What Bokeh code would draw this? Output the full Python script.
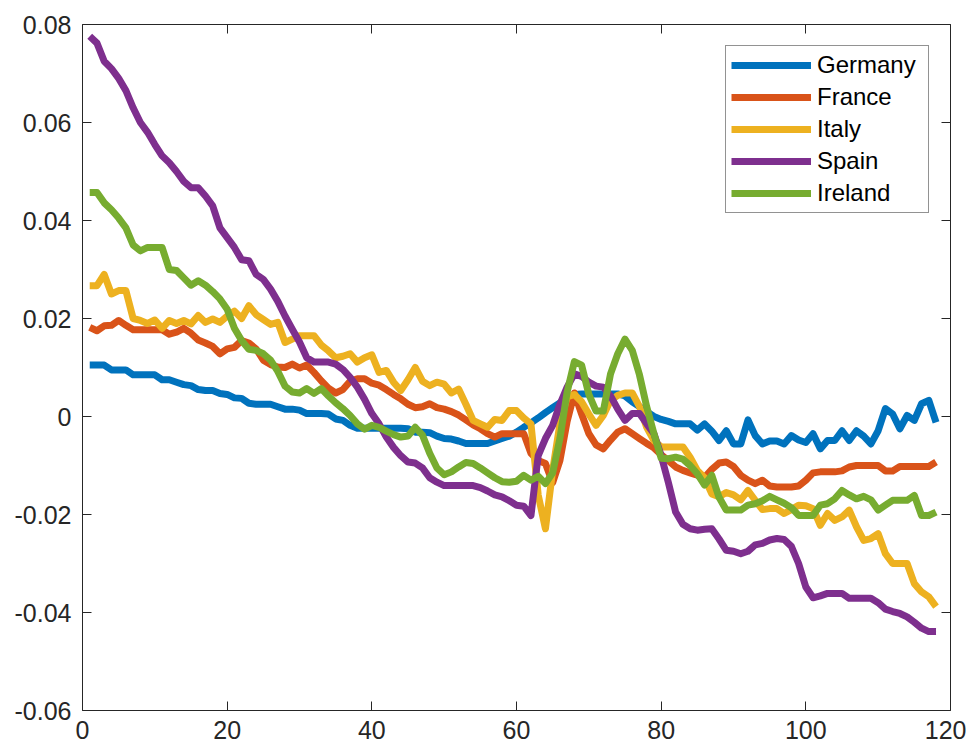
from bokeh.plotting import figure
from bokeh.models import (Range1d, FixedTicker, LinearAxis, Legend, LegendItem,
                          CustomJSTickFormatter, ColumnDataSource)
from bokeh.embed import file_html
from bokeh.resources import INLINE

periods = list(range(1, 119))

names = ["Germany", "France", "Italy", "Spain", "Ireland"]
colors = ["#0072BD", "#D95319", "#EDB120", "#7E2F8E", "#77AC30"]

germany = [
    0.0105, 0.0105, 0.0105, 0.0095, 0.0095, 0.0095, 0.0085, 0.0085, 0.0085, 0.0085,
    0.0075, 0.0075, 0.0070, 0.0065, 0.0063, 0.0055, 0.0053, 0.0053, 0.0047, 0.0045,
    0.0038, 0.0037, 0.0027, 0.0025, 0.0025, 0.0025, 0.0020, 0.0015, 0.0015, 0.0013,
    0.0006, 0.0006, 0.0006, 0.0005, -0.0005, -0.0008, -0.0018, -0.0024, -0.0024, -0.0024,
    -0.0024, -0.0024, -0.0024, -0.0024, -0.0025, -0.0032, -0.0032, -0.0033, -0.0040, -0.0045,
    -0.0046, -0.0050, -0.0055, -0.0055, -0.0055, -0.0055, -0.0050, -0.0045, -0.0040, -0.0032,
    -0.0022, -0.0013, -0.0003, 0.0008, 0.0018, 0.0028, 0.0038, 0.0045, 0.0046, 0.0046,
    0.0046, 0.0046, 0.0046, 0.0046, 0.0042, 0.0030, 0.0020, 0.0010, 0.0000, -0.0006,
    -0.0010, -0.0015, -0.0015, -0.0015, -0.0028, -0.0015, -0.0030, -0.0049, -0.0029, -0.0056,
    -0.0056, -0.0007, -0.0039, -0.0056, -0.0050, -0.0050, -0.0056, -0.0039, -0.0048, -0.0053,
    -0.0035, -0.0066, -0.0049, -0.0049, -0.0029, -0.0049, -0.0029, -0.0040, -0.0056, -0.0029,
    0.0016, 0.0005, -0.0025, 0.0002, -0.0008, 0.0026, 0.0033, -0.0012]

france = [
    0.0182, 0.0175, 0.0185, 0.0186, 0.0196, 0.0186, 0.0177, 0.0177, 0.0177, 0.0177,
    0.0177, 0.0168, 0.0172, 0.0180, 0.0170, 0.0156, 0.0150, 0.0143, 0.0128, 0.0138,
    0.0141, 0.0155, 0.0150, 0.0138, 0.0115, 0.0106, 0.0101, 0.0100, 0.0107, 0.0099,
    0.0105, 0.0090, 0.0073, 0.0058, 0.0048, 0.0055, 0.0072, 0.0077, 0.0077, 0.0068,
    0.0064, 0.0055, 0.0045, 0.0036, 0.0025, 0.0018, 0.0020, 0.0026, 0.0018, 0.0015,
    0.0010, 0.0003, -0.0007, -0.0017, -0.0025, -0.0035, -0.0042, -0.0035, -0.0035, -0.0035,
    -0.0035, -0.0075, -0.0090, -0.0096, -0.0135, -0.0090, -0.0010, 0.0048, 0.0005, -0.0035,
    -0.0058, -0.0066, -0.0048, -0.0032, -0.0025, -0.0035, -0.0045, -0.0055, -0.0064, -0.0078,
    -0.0090, -0.0103, -0.0110, -0.0115, -0.0120, -0.0124, -0.0108, -0.0095, -0.0093, -0.0102,
    -0.0120, -0.0130, -0.0137, -0.0130, -0.0142, -0.0144, -0.0144, -0.0144, -0.0142, -0.0130,
    -0.0115, -0.0113, -0.0113, -0.0113, -0.0111, -0.0103, -0.0100, -0.0100, -0.0100, -0.0100,
    -0.0111, -0.0111, -0.0102, -0.0102, -0.0102, -0.0102, -0.0102, -0.0093]

italy = [
    0.0267, 0.0267, 0.0290, 0.0250, 0.0257, 0.0257, 0.0200, 0.0196, 0.0190, 0.0197,
    0.0180, 0.0196, 0.0190, 0.0196, 0.0189, 0.0206, 0.0192, 0.0199, 0.0192, 0.0205,
    0.0215, 0.0200, 0.0226, 0.0208, 0.0198, 0.0188, 0.0192, 0.0151, 0.0158, 0.0165,
    0.0165, 0.0165, 0.0146, 0.0134, 0.0120, 0.0123, 0.0128, 0.0111, 0.0120, 0.0126,
    0.0090, 0.0094, 0.0070, 0.0053, 0.0075, 0.0100, 0.0072, 0.0063, 0.0070, 0.0066,
    0.0048, 0.0056, 0.0025, -0.0008, -0.0015, -0.0022, -0.0006, -0.0008, 0.0012, 0.0012,
    -0.0003, -0.0015, -0.0160, -0.0229, -0.0110, -0.0015, 0.0040, 0.0045, 0.0030, 0.0005,
    -0.0018, 0.0002, 0.0033, 0.0043, 0.0048, 0.0048, 0.0020, -0.0022, -0.0049, -0.0062,
    -0.0062, -0.0062, -0.0062, -0.0083, -0.0110, -0.0125, -0.0158, -0.0164, -0.0155, -0.0160,
    -0.0170, -0.0151, -0.0171, -0.0190, -0.0188, -0.0188, -0.0198, -0.0190, -0.0181, -0.0182,
    -0.0188, -0.0222, -0.0198, -0.0212, -0.0205, -0.0191, -0.0225, -0.0253, -0.0249, -0.0239,
    -0.0280, -0.0300, -0.0300, -0.0300, -0.0341, -0.0358, -0.0368, -0.0388]

spain = [
    0.0776, 0.0762, 0.0725, 0.0710, 0.0690, 0.0665, 0.0630, 0.0600, 0.0580, 0.0555,
    0.0532, 0.0518, 0.0500, 0.0480, 0.0467, 0.0467, 0.0450, 0.0430, 0.0385, 0.0365,
    0.0345, 0.0320, 0.0318, 0.0290, 0.0280, 0.0260, 0.0235, 0.0205, 0.0178, 0.0152,
    0.0120, 0.0111, 0.0111, 0.0111, 0.0107, 0.0096, 0.0080, 0.0060, 0.0035, 0.0006,
    -0.0015, -0.0042, -0.0063, -0.0080, -0.0093, -0.0095, -0.0105, -0.0125, -0.0134, -0.0141,
    -0.0141, -0.0141, -0.0141, -0.0141, -0.0145, -0.0152, -0.0160, -0.0164, -0.0172, -0.0181,
    -0.0183, -0.0202, -0.0080, -0.0045, -0.0018, 0.0025, 0.0060, 0.0087, 0.0082, 0.0070,
    0.0062, 0.0060, 0.0042, 0.0015, -0.0008, 0.0006, 0.0006, -0.0015, -0.0035, -0.0080,
    -0.0135, -0.0195, -0.0220, -0.0229, -0.0232, -0.0230, -0.0229, -0.0250, -0.0273, -0.0275,
    -0.0280, -0.0275, -0.0262, -0.0259, -0.0252, -0.0249, -0.0251, -0.0265, -0.0300, -0.0348,
    -0.0370, -0.0366, -0.0361, -0.0361, -0.0361, -0.0371, -0.0371, -0.0371, -0.0371, -0.0380,
    -0.0393, -0.0398, -0.0402, -0.0409, -0.0420, -0.0432, -0.0439, -0.0439]

ireland = [
    0.0457, 0.0457, 0.0436, 0.0422, 0.0405, 0.0385, 0.0350, 0.0338, 0.0345, 0.0345,
    0.0345, 0.0300, 0.0298, 0.0283, 0.0268, 0.0277, 0.0268, 0.0255, 0.0240, 0.0219,
    0.0180, 0.0155, 0.0137, 0.0135, 0.0128, 0.0115, 0.0092, 0.0062, 0.0050, 0.0048,
    0.0057, 0.0047, 0.0057, 0.0042, 0.0028, 0.0016, 0.0002, -0.0015, -0.0026, -0.0018,
    -0.0022, -0.0030, -0.0037, -0.0042, -0.0040, -0.0022, -0.0038, -0.0075, -0.0105, -0.0119,
    -0.0113, -0.0103, -0.0094, -0.0096, -0.0105, -0.0115, -0.0125, -0.0133, -0.0134, -0.0132,
    -0.0120, -0.0130, -0.0122, -0.0137, -0.0115, -0.0045, 0.0050, 0.0112, 0.0105, 0.0045,
    0.0011, 0.0011, 0.0087, 0.0128, 0.0158, 0.0135, 0.0085, 0.0020, -0.0035, -0.0085,
    -0.0086, -0.0083, -0.0087, -0.0100, -0.0117, -0.0140, -0.0120, -0.0165, -0.0191, -0.0191,
    -0.0191, -0.0181, -0.0178, -0.0172, -0.0163, -0.0170, -0.0177, -0.0186, -0.0202, -0.0202,
    -0.0202, -0.0181, -0.0178, -0.0168, -0.0151, -0.0160, -0.0168, -0.0163, -0.0170, -0.0191,
    -0.0181, -0.0171, -0.0171, -0.0171, -0.0161, -0.0202, -0.0202, -0.0195]

x_ticks = [0, 20, 40, 60, 80, 100, 120]
y_ticks = [-0.06, -0.04, -0.02, 0, 0.02, 0.04, 0.06, 0.08]

series = [germany, france, italy, spain, ireland]

p = figure(width=966, height=749, output_backend="svg", toolbar_location=None,
           x_range=Range1d(0, 120), y_range=Range1d(-0.06, 0.08),
           min_border_left=82, min_border_right=16, min_border_top=24,
           min_border_bottom=39, background_fill_color="white",
           border_fill_color="white")
p.xgrid.visible = False
p.ygrid.visible = False
p.outline_line_color = None

AX = "#262626"
FONT = "Liberation Sans"


def style_axis(ax, labels=True, standoff=8):
    ax.axis_line_color = AX
    ax.axis_line_width = 1
    ax.major_tick_line_color = AX
    ax.major_tick_line_width = 1
    ax.major_tick_in = 9
    ax.major_tick_out = 0
    ax.minor_tick_line_color = None
    ax.major_label_text_font = FONT
    if labels:
        ax.major_label_text_color = AX
        ax.major_label_text_font_size = "25px"
        ax.major_label_standoff = standoff
    else:
        ax.major_label_text_color = None
        ax.major_label_text_alpha = 0
        ax.major_label_text_font_size = "0px"
        ax.major_label_standoff = 0


xt = FixedTicker(ticks=x_ticks)
yt = FixedTicker(ticks=y_ticks)
yfmt = CustomJSTickFormatter(code="""
if (Math.abs(tick) < 1e-12) { return "0"; }
return tick.toFixed(2);
""")

p.xaxis.ticker = xt
p.yaxis.ticker = yt
p.yaxis.formatter = yfmt
style_axis(p.xaxis[0], True, 10)
style_axis(p.yaxis[0], True, 11)

top = LinearAxis(ticker=FixedTicker(ticks=x_ticks))
right = LinearAxis(ticker=FixedTicker(ticks=y_ticks))
style_axis(top, False)
style_axis(right, False)
p.add_layout(top, "above")
p.add_layout(right, "right")

items = []
for name, col, vals in zip(names, colors, series):
    src = ColumnDataSource(dict(x=periods, y=vals))
    r = p.line("x", "y", source=src, line_color=col, line_width=7,
               line_join="round", line_cap="butt")
    items.append(LegendItem(label=name, renderers=[r]))

legend = Legend(items=items, location="top_right", margin=21,
                border_line_color=AX, border_line_width=1,
                background_fill_color="white", background_fill_alpha=1.0,
                label_text_font=FONT, label_text_font_size="24px",
                label_text_color="black", glyph_width=80, glyph_height=26,
                label_height=26, label_width=106, label_standoff=6,
                padding=5, spacing=4)
p.add_layout(legend)

open("out.html", "w").write(file_html(p, INLINE))
